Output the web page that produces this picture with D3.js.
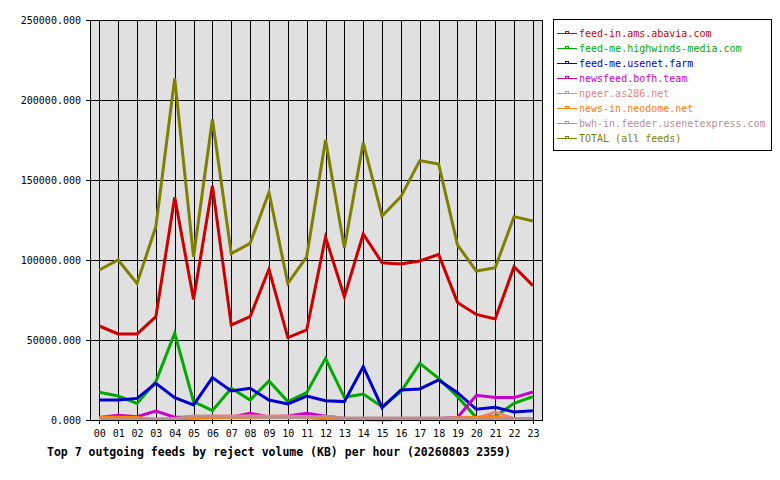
<!DOCTYPE html>
<html><head><meta charset="utf-8">
<script src="https://cdn.jsdelivr.net/npm/d3@7"></script>
<style>
body{margin:0;background:#fff;}
text{font-family:"DejaVu Sans Mono","Liberation Mono",monospace;}
</style></head>
<body><svg id="c" width="780" height="480"></svg>
<script>
const hours = ["00","01","02","03","04","05","06","07","08","09","10","11","12","13","14","15","16","17","18","19","20","21","22","23"];
const yTicks = [0,50000,100000,150000,200000,250000];
const seriesNames = ["feed-in.ams.abavia.com","feed-me.highwinds-media.com","feed-me.usenet.farm","newsfeed.bofh.team","npeer.as286.net","news-in.neodome.net","bwh-in.feeder.usenetexpress.com","TOTAL (all feeds)"];
const seriesColors = ["#CC0000","#00AA00","#0000CC","#CC00CC","#F08080","#FF8000","#BC8F8F","#808000"];
const abavia   = [58750,53750,53750,64600,139200,75400,146250,59400,64600,94200,51500,56250,114200,77100,116250,98300,97500,99400,103500,73500,66000,63100,95800,84000];
const highwinds= [17300,15000,10400,24000,54200,11500,5800,19800,12500,24400,11500,17100,38500,14200,16250,8300,17700,35400,26000,14600,1500,2200,10400,14600];
const usenetfarm=[12500,12500,13500,22900,14000,9400,26500,18100,19800,12500,10000,15000,12100,11500,33300,7700,18750,19400,25000,17100,6700,7900,5000,5800];
const bofh     = [1500,3000,2000,5600,1700,1700,1700,1800,4200,1900,2500,4200,2300,1000,1000,1000,1000,1000,1000,1600,15400,14000,14000,17500];
const npeer    = [500,500,500,500,500,1500,2500,2500,2500,2500,2500,2000,1500,1000,800,800,800,800,800,800,800,5000,800,800];
const neodome  = [1700,1700,1500,300,300,1000,1500,1500,1500,1500,1500,1500,500,300,300,0,300,300,300,1500,1500,2000,300,300];
const bwh      = [700,700,700,700,900,2500,2300,1800,1800,1500,1500,1500,2300,1300,1300,1300,1300,1300,1300,1300,1000,1000,1000,1000];
const total    = [93750,100000,85400,120800,213500,102000,188000,104000,110400,142300,85400,102000,175000,107700,173300,127500,139600,162100,160000,109400,93100,95200,127100,124400];
const allSeries = [abavia,highwinds,usenetfarm,bofh,npeer,neodome,bwh,total];

const svg = d3.select("#c");
const L=90, R=542, T=20, B=420;
const x = d3.scalePoint().domain(hours).range([99.3,532.9]);
const y = d3.scaleLinear().domain([0,250000]).range([B,T]);

svg.append("rect").attr("x",L).attr("y",T).attr("width",R-L).attr("height",B-T).attr("fill","#E0E0E0");

// vertical grid
svg.append("g").selectAll("line").data(hours).join("line")
  .attr("x1",d=>Math.round(x(d))+0.5).attr("x2",d=>Math.round(x(d))+0.5)
  .attr("y1",T).attr("y2",B+4).attr("stroke","#000").attr("stroke-width",1);
// horizontal grid
svg.append("g").selectAll("line").data(yTicks).join("line")
  .attr("x1",L-4).attr("x2",R).attr("y1",d=>Math.round(y(d))+0.5).attr("y2",d=>Math.round(y(d))+0.5)
  .attr("stroke","#000").attr("stroke-width",1);

// axes labels
const yAxis = d3.axisLeft(y).tickValues(yTicks).tickFormat(d3.format(".3f")).tickSize(0).tickPadding(9);
const gy = svg.append("g").attr("transform",`translate(${L},0)`).call(yAxis);
gy.select(".domain").remove();
gy.selectAll("text").attr("font-size","10px").attr("fill","#000").attr("font-family","DejaVu Sans Mono");

const xAxis = d3.axisBottom(x).tickSize(0).tickPadding(10);
const gx = svg.append("g").attr("transform",`translate(0,${B})`).call(xAxis);
gx.select(".domain").remove();
gx.selectAll("text").attr("font-size","10px").attr("fill","#000").attr("font-family","DejaVu Sans Mono");

// lines
const line = d3.line().x((d,i)=>x(hours[i])).y(d=>y(d));
svg.append("g").selectAll("path").data(allSeries).join("path")
  .attr("d",d=>line(d)).attr("fill","none")
  .attr("stroke",(d,i)=>seriesColors[i]).attr("stroke-width",3).attr("stroke-linejoin","miter");

// border
svg.append("rect").attr("x",L+0.5).attr("y",T+0.5).attr("width",R-L).attr("height",B-T)
  .attr("fill","none").attr("stroke","#000").attr("stroke-width",1);

// legend
const lg = svg.append("g");
lg.append("rect").attr("x",553.5).attr("y",19.5).attr("width",218).attr("height",131)
  .attr("fill","#fff").attr("stroke","#000").attr("stroke-width",1);
const items = lg.selectAll("g").data(seriesNames).join("g")
  .attr("transform",(d,i)=>`translate(0,${33+i*15})`);
items.append("line").attr("x1",557).attr("x2",577).attr("y1",0.5).attr("y2",0.5)
  .attr("stroke",(d,i)=>seriesColors[i]).attr("stroke-width",1);
items.append("rect").attr("x",565.5).attr("y",-1.5).attr("width",3).attr("height",2)
  .attr("fill","none").attr("stroke",(d,i)=>seriesColors[i]).attr("stroke-width",1);
items.append("text").attr("x",579).attr("y",4).attr("font-size","10px")
  .attr("fill",(d,i)=>seriesColors[i]).text(d=>d);

// title
svg.append("text").attr("x",47).attr("y",456).attr("font-size","11.5px").attr("font-weight","bold")
  .attr("fill","#000").text("Top 7 outgoing feeds by reject volume (KB) per hour (20260803 2359)");
</script></body></html>
